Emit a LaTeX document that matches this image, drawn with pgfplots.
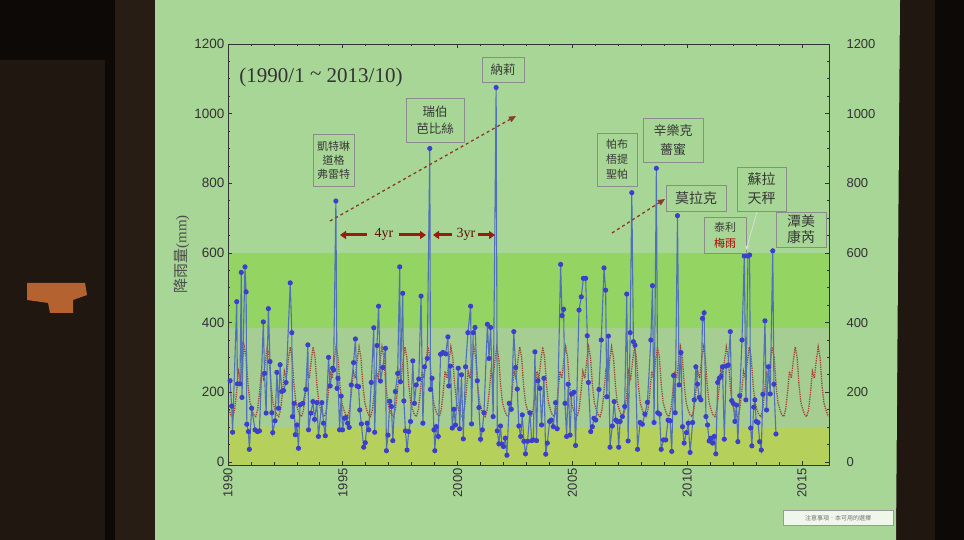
\documentclass[border=0pt]{standalone}
\usepackage{pgfplots}
\pgfplotsset{compat=1.18}
\usepackage{fontspec}
\setmainfont{Liberation Sans}
\newfontfamily\serif{Liberation Serif}
\newfontfamily\cjk{Noto Sans CJK TC}
\usetikzlibrary{arrows.meta}
\definecolor{darkbg}{RGB}{32,23,16}
\definecolor{darker}{RGB}{12,9,7}
\definecolor{midbrown}{RGB}{40,29,21}
\definecolor{orangeblob}{RGB}{180,98,48}
\definecolor{slidebg}{RGB}{168,214,150}
\definecolor{bandlime}{RGB}{148,212,98}
\definecolor{bandmid}{RGB}{166,205,146}
\definecolor{bandyel}{RGB}{182,208,92}
\definecolor{lineblue}{RGB}{80,112,184}
\definecolor{markblue}{RGB}{60,62,205}
\definecolor{climred}{RGB}{160,70,58}
\definecolor{arrred}{RGB}{150,28,16}
\definecolor{boxtext}{RGB}{55,58,55}
\begin{document}
\begin{tikzpicture}[x=1pt,y=1pt]
\useasboundingbox (0,0) rectangle (964,540);
% surroundings (photo of a projected slide)
\fill[darkbg] (0,0) rectangle (964,540);
\fill[darker] (0,480) rectangle (105,540);
\fill[darker] (105,0) rectangle (115,540);
\fill[midbrown] (115,0) rectangle (155,540);
\fill[orangeblob] (27,257) -- (85,257) -- (87,245) -- (73,240) -- (73,227) -- (50,227) -- (48,237) -- (27,240) -- cycle;
\fill[darker] (935,0) rectangle (964,540);
\fill[slidebg] (155,0) -- (896,0) -- (900,540) -- (155,540) -- cycle;

\begin{axis}[
  at={(228pt,75pt)}, anchor=south west, scale only axis,
  width=601pt, height=421pt,
  xmin=1990, xmax=2016.18, ymin=-9, ymax=1200,
  axis on top,
  axis line style={draw=black!80, line width=0.9pt},
  tick style={draw=black!80, line width=0.7pt},
  tick align=inside,
  major tick length=4pt, minor tick length=2.5pt,
  xtick={1990,1995,2000,2005,2010,2015},
  minor x tick num=4,
  ytick={0,200,400,600,800,1000,1200},
  minor y tick num=3,
  xticklabel pos=lower, yticklabel pos=left,
  xticklabel style={rotate=90, anchor=east, font=\fontsize{13}{15}\selectfont, text=black!80, /pgf/number format/1000 sep={}},
  yticklabel style={font=\fontsize{13.5}{15}\selectfont, text=black!80, /pgf/number format/1000 sep={}},
  /pgf/number format/assume math mode=true,
  ylabel={{\cjk\fontsize{15}{17}\selectfont 降雨量}{\serif\fontsize{15}{17}\selectfont (mm)}},
  ylabel style={at={(axis description cs:-0.077,0.5)}, anchor=center, text=black!70},
  clip=true,
]
\fill[bandyel] (axis cs:1990,-9) rectangle (axis cs:2016.18,100);
\fill[bandmid] (axis cs:1990,100) rectangle (axis cs:2016.18,385);
\fill[bandlime] (axis cs:1990,385) rectangle (axis cs:2016.18,600);

% monthly climatology (dotted)
\addplot[climred, line width=1.3pt, densely dotted] table[row sep=\\, x expr=1990+(\coordindex+0.5)/12, y index=0] {c\\
150\\135\\130\\150\\200\\260\\240\\290\\330\\300\\220\\170\\
150\\135\\130\\150\\200\\260\\240\\290\\330\\300\\220\\170\\
150\\135\\130\\150\\200\\260\\240\\290\\330\\300\\220\\170\\
150\\135\\130\\150\\200\\260\\240\\290\\330\\300\\220\\170\\
150\\135\\130\\150\\200\\260\\240\\290\\330\\300\\220\\170\\
150\\135\\130\\150\\200\\260\\240\\290\\330\\300\\220\\170\\
150\\135\\130\\150\\200\\260\\240\\290\\330\\300\\220\\170\\
150\\135\\130\\150\\200\\260\\240\\290\\330\\300\\220\\170\\
150\\135\\130\\150\\200\\260\\240\\290\\330\\300\\220\\170\\
150\\135\\130\\150\\200\\260\\240\\290\\330\\300\\220\\170\\
150\\135\\130\\150\\200\\260\\240\\290\\330\\300\\220\\170\\
150\\135\\130\\150\\200\\260\\240\\290\\330\\300\\220\\170\\
150\\135\\130\\150\\200\\260\\240\\290\\330\\300\\220\\170\\
150\\135\\130\\150\\200\\260\\240\\290\\330\\300\\220\\170\\
150\\135\\130\\150\\200\\260\\240\\290\\330\\300\\220\\170\\
150\\135\\130\\150\\200\\260\\240\\290\\330\\300\\220\\170\\
150\\135\\130\\150\\200\\260\\240\\290\\330\\300\\220\\170\\
150\\135\\130\\150\\200\\260\\240\\290\\330\\300\\220\\170\\
150\\135\\130\\150\\200\\260\\240\\290\\330\\300\\220\\170\\
150\\135\\130\\150\\200\\260\\240\\290\\330\\300\\220\\170\\
150\\135\\130\\150\\200\\260\\240\\290\\330\\300\\220\\170\\
150\\135\\130\\150\\200\\260\\240\\290\\330\\300\\220\\170\\
150\\135\\130\\150\\200\\260\\240\\290\\330\\300\\220\\170\\
150\\135\\130\\150\\200\\260\\240\\290\\330\\300\\220\\170\\
150\\135\\130\\150\\200\\260\\240\\290\\330\\300\\220\\170\\
150\\135\\130\\150\\200\\260\\240\\290\\330\\300\\220\\170\\
150\\135\\130\\
};

% monthly rainfall 1990/1 - 2013/10
\addplot[lineblue, line width=1.1pt, mark=*, mark size=2pt, mark options={fill=markblue, draw=markblue}] coordinates {
(1990.09,233)(1990.16,160)(1990.20,85)(1990.38,460)(1990.41,224)(1990.52,224)(1990.58,544)(1990.61,185)(1990.74,560)(1990.79,488)(1990.82,108)(1990.89,87)(1990.93,36)(1991.03,154)(1991.18,92)(1991.28,87)(1991.37,89)(1991.54,402)(1991.59,254)(1991.66,140)(1991.76,440)(1991.83,288)(1991.91,141)(1991.95,84)(1992.05,118)(1992.13,257)(1992.20,154)(1992.27,279)(1992.34,202)(1992.42,205)(1992.53,228)(1992.71,514)(1992.78,371)(1992.81,130)(1992.88,168)(1992.93,78)(1993.00,106)(1993.07,39)(1993.14,164)(1993.26,168)(1993.39,208)(1993.48,336)(1993.51,92)(1993.61,140)(1993.70,173)(1993.77,122)(1993.87,170)(1993.94,73)(1994.09,170)(1994.16,111)(1994.24,75)(1994.38,300)(1994.45,218)(1994.56,269)(1994.60,264)(1994.70,749)(1994.75,211)(1994.79,240)(1994.86,92)(1994.93,189)(1994.99,92)(1995.07,125)(1995.14,127)(1995.21,111)(1995.28,99)(1995.37,221)(1995.47,285)(1995.55,353)(1995.62,218)(1995.69,216)(1995.74,149)(1995.81,109)(1995.91,42)(1995.98,55)(1996.06,111)(1996.13,92)(1996.24,228)(1996.35,385)(1996.39,85)(1996.49,334)(1996.56,447)(1996.64,232)(1996.74,271)(1996.86,326)(1996.90,32)(1996.97,77)(1997.05,174)(1997.12,159)(1997.18,61)(1997.29,202)(1997.39,254)(1997.48,560)(1997.51,230)(1997.61,484)(1997.66,175)(1997.73,89)(1997.80,34)(1997.87,87)(1997.95,116)(1998.05,290)(1998.12,168)(1998.20,221)(1998.31,238)(1998.41,476)(1998.49,111)(1998.56,273)(1998.68,297)(1998.79,900)(1998.82,208)(1998.89,240)(1998.97,92)(1999.01,32)(1999.07,101)(1999.16,73)(1999.26,309)(1999.36,314)(1999.48,310)(1999.58,359)(1999.62,218)(1999.69,275)(1999.77,97)(1999.84,151)(1999.91,106)(2000.03,269)(2000.09,95)(2000.17,250)(2000.25,66)(2000.35,273)(2000.45,371)(2000.57,447)(2000.61,109)(2000.68,371)(2000.76,386)(2000.86,233)(2000.93,156)(2001.00,65)(2001.08,92)(2001.15,141)(2001.30,395)(2001.37,297)
(2001.44,386)(2001.55,130)(2001.68,1075)(2001.73,89)(2001.80,52)(2001.87,103)(2001.93,51)(2002.00,44)(2002.08,68)(2002.15,19)(2002.25,168)(2002.34,151)(2002.45,374)(2002.53,271)(2002.60,209)(2002.67,103)(2002.75,73)(2002.82,135)(2002.89,59)(2002.96,23)(2003.05,59)(2003.15,141)(2003.23,61)(2003.30,63)(2003.37,316)(2003.44,61)(2003.50,233)(2003.59,211)(2003.66,106)(2003.76,240)(2003.84,22)(2003.91,54)(2004.01,116)(2004.08,120)(2004.17,101)(2004.27,170)(2004.34,95)(2004.49,567)(2004.55,420)(2004.62,438)(2004.68,168)(2004.75,73)(2004.82,223)(2004.90,77)(2004.97,195)(2005.07,200)(2005.14,47)(2005.29,436)(2005.39,474)(2005.48,527)(2005.58,527)(2005.65,362)(2005.70,228)(2005.80,87)(2005.87,101)(2005.94,125)(2006.02,120)(2006.16,208)(2006.26,350)(2006.38,557)(2006.45,493)(2006.50,187)(2006.57,361)(2006.64,42)(2006.74,103)(2006.82,173)(2006.89,120)(2006.96,116)(2007.02,42)(2007.08,116)(2007.18,130)(2007.28,159)(2007.37,482)(2007.43,60)(2007.52,371)(2007.59,773)(2007.66,345)(2007.73,335)(2007.84,36)(2007.95,113)(2008.05,108)(2008.16,137)(2008.27,171)(2008.42,350)(2008.49,506)(2008.56,113)(2008.66,843)(2008.72,141)(2008.80,137)(2008.87,36)(2008.97,63)(2009.07,63)(2009.17,120)(2009.26,118)(2009.33,30)(2009.41,248)(2009.48,141)(2009.58,707)(2009.65,221)(2009.73,314)(2009.80,101)(2009.87,54)(2009.97,84)(2010.05,111)(2010.13,27)(2010.24,113)(2010.31,178)(2010.38,273)(2010.45,223)(2010.53,185)(2010.60,178)(2010.67,412)(2010.74,428)(2010.82,130)(2010.89,106)(2010.96,60)(2011.03,68)(2011.11,54)(2011.18,73)(2011.25,23)(2011.33,228)(2011.40,240)(2011.47,245)(2011.54,273)(2011.62,65)(2011.70,275)(2011.79,278)(2011.88,374)(2011.94,176)(2012.01,168)(2012.08,116)(2012.15,163)(2012.21,58)(2012.29,190)(2012.39,350)(2012.49,591)(2012.56,178)(2012.65,591)(2012.72,594)(2012.77,97)(2012.82,46)(2012.90,157)(2012.95,178)(2013.01,116)(2013.09,113)(2013.16,58)(2013.23,34)(2013.30,194)(2013.39,405)(2013.46,149)(2013.54,273)(2013.62,195)(2013.73,606)(2013.78,223)(2013.87,80)
};
\end{axis}

% right-hand tick labels
\begin{axis}[
  at={(228pt,75pt)}, anchor=south west, scale only axis,
  width=601pt, height=421pt,
  xmin=1990, xmax=2016.18, ymin=-9, ymax=1200,
  hide x axis,
  axis y line*=right,
  axis line style={draw=none},
  major tick length=0pt, minor tick length=0pt,
  ytick={0,200,400,600,800,1000,1200},
  yticklabel pos=right,
  yticklabel style={font=\fontsize{13}{15}\selectfont, text=black!80, anchor=west, xshift=14pt, /pgf/number format/1000 sep={}},
  /pgf/number format/assume math mode=true,
]
\addplot[draw=none] coordinates {(1990,0)};
\end{axis}

% title
\node[text=black!80, font=\serif\fontsize{21}{24}\selectfont] at (321,463) {(1990/1 \raisebox{0.15ex}{\char"007E} 2013/10)};

% typhoon boxes
\tikzset{tbox/.style={draw=black!45, line width=0.6pt, inner sep=0pt, align=center, text=boxtext}}
\node[tbox, minimum width=41pt, minimum height=52pt, font=\cjk\fontsize{11}{14}\selectfont] at (333.5,380) {凱特琳\\道格\\弗雷特};
\node[tbox, minimum width=58pt, minimum height=44pt, font=\cjk\fontsize{12.5}{17}\selectfont] at (435,420) {瑞伯\\芭比絲};
\node[tbox, minimum width=42pt, minimum height=25pt, font=\cjk\fontsize{12.5}{15}\selectfont] at (503,470.5) {納莉};
\node[tbox, minimum width=40pt, minimum height=53pt, font=\cjk\fontsize{11}{15}\selectfont] at (617,380.5) {帕布\\梧提\\聖帕};
\node[tbox, minimum width=60pt, minimum height=44pt, font=\cjk\fontsize{13}{19}\selectfont] at (673,400) {辛樂克\\薔蜜};
\node[tbox, minimum width=60pt, minimum height=26pt, font=\cjk\fontsize{14}{16}\selectfont] at (696,342) {莫拉克};
\node[tbox, minimum width=42pt, minimum height=36pt, font=\cjk\fontsize{11}{16}\selectfont] at (725,305) {泰利\\\textcolor{red!70!black}{梅雨}};
\node[tbox, minimum width=49pt, minimum height=44pt, font=\cjk\fontsize{14}{19}\selectfont] at (761.5,351) {蘇拉\\天秤};
\node[tbox, minimum width=50pt, minimum height=35pt, font=\cjk\fontsize{14}{16}\selectfont] at (801,310.5) {潭美\\康芮};
\draw[white!75!gray, line width=0.7pt, -{Stealth[length=5pt]}] (757,328) -- (746,290);

% trend arrows
\draw[climred!85!black, dashed, line width=1.3pt, -{Triangle[length=7pt,width=6pt]}] (330,319) -- (516,424);
\draw[climred!85!black, dashed, line width=1.3pt, -{Triangle[length=7pt,width=6pt]}] (612,307) -- (665,341);

% period arrows
\draw[arrred, line width=3pt, -{Triangle[length=6pt,width=8pt]}] (367,305) -- (340,305);
\draw[arrred, line width=3pt, -{Triangle[length=6pt,width=8pt]}] (399,305) -- (426,305);
\node[text=arrred!60!black, font=\serif\fontsize{14}{16}\selectfont] at (384,306) {4yr};
\draw[arrred, line width=3pt, -{Triangle[length=6pt,width=8pt]}] (452,305) -- (433,305);
\draw[arrred, line width=3pt, -{Triangle[length=6pt,width=8pt]}] (478,305) -- (495,305);
\node[text=arrred!60!black, font=\serif\fontsize{14}{16}\selectfont] at (466,306) {3yr};

% small footer box
\node[draw=black!40, fill=white!80!slidebg, line width=0.6pt, minimum width=110pt, minimum height=15pt, inner sep=0pt, font=\cjk\fontsize{6}{7}\selectfont, text=black!55] at (838,22) {注意事項．本可用的選擇};
\end{tikzpicture}
\end{document}
